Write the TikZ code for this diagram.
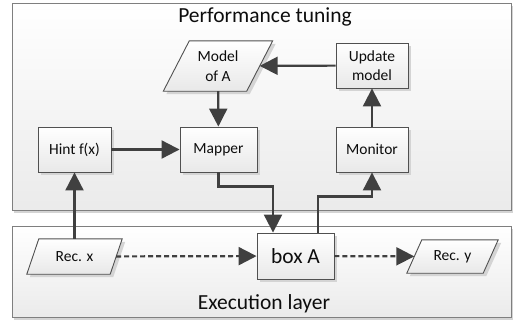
\documentclass[tikz,border=0pt]{standalone}
\usepackage{fontspec}
\setmainfont{Carlito}
\usetikzlibrary{arrows.meta,shadows}

\definecolor{linec}{HTML}{404040}
\definecolor{edgec}{HTML}{505050}
\definecolor{panelc}{HTML}{7F7F7F}
\definecolor{shadowc}{HTML}{D4D4D4}

\pgfdeclarelayer{back}
\pgfdeclarelayer{shapes}
\pgfsetlayers{back,shapes,main}

\tikzset{
  panel/.style={draw=panelc, line width=1pt, top color=white, bottom color=black!8,
    drop shadow={shadow xshift=2pt, shadow yshift=-3pt, fill=shadowc, opacity=1}},
  boxfill/.style={draw=edgec, line width=0.9pt, top color=white, bottom color=black!9,
    drop shadow={shadow xshift=3pt, shadow yshift=-3pt, fill=shadowc, opacity=1}},
  box/.style={boxfill, rectangle, inner sep=0pt, align=center, text=black!95,
    font=\fontsize{15.5}{19.5}\selectfont},
  skew/.style={rectangle, draw=none, inner sep=0pt, align=center, text=black!95,
    font=\fontsize{15.5}{19.5}\selectfont},
  arr/.style={draw=linec, line width=2.2pt,
    -{Triangle[length=18pt, width=18pt]}},
  dotted line/.style={dash pattern=on 5pt off 3pt},
  caption/.style={font=\fontsize{21.5}{24}\selectfont, text=black!95, inner sep=0pt}
}

% parallelogram behind a named rectangular node: name, horizontal slant
\newcommand\skewframe[2]{%
  \begin{pgfonlayer}{shapes}
    \path[boxfill] ([xshift=#2/2]#1.north west) -- ([xshift=#2/2]#1.north east)
      -- ([xshift=-#2/2]#1.south east) -- ([xshift=-#2/2]#1.south west) -- cycle;
  \end{pgfonlayer}}

\begin{document}
\begin{tikzpicture}[x=1pt, y=-1pt]
  \useasboundingbox (0,0) rectangle (514,325);

  % the two layer panels
  \begin{pgfonlayer}{back}
    \path[panel] (12,3) rectangle (511,210);
    \path[panel] (12,226) rectangle (511,317);
  \end{pgfonlayer}
  \node[caption] (ttl) at (265,17) {Performance tuning};
  \node[caption] (etl) at (264,304) {Execution layer};

  % tuning blocks
  \node[box, minimum width=73pt, minimum height=45pt] (hint) at (74.5,149.5) {Hint f(x)};
  \node[box, minimum width=77pt, minimum height=45pt] (mapper) at (218.5,149.5) {Mapper};
  \node[skew, minimum width=83pt, minimum height=50pt] (model) at (218,66) {Model\\of A};
  \skewframe{model}{26}
  \node[box, minimum width=72pt, minimum height=45pt] (update) at (372,65.5) {Update\\model};
  \node[box, minimum width=72pt, minimum height=45pt] (monitor) at (372,149.5) {Monitor};

  % execution blocks
  \node[box, minimum width=77pt, minimum height=46pt, font=\fontsize{21.5}{24}\selectfont] (boxa) at (295.5,256) {box A};
  \node[skew, minimum width=83pt, minimum height=35pt] (recx) at (74.5,256.5) {Rec. x};
  \skewframe{recx}{12}
  \node[skew, minimum width=76pt, minimum height=33pt] (recy) at (452.5,256.5) {Rec. y};
  \skewframe{recy}{15}

  % connectors
  \draw[arr] (hint) -- (mapper);
  \draw[arr] (model) -- (mapper);
  \draw[arr] (update) -- (model);
  \draw[arr] (monitor) -- (update);
  \draw[arr] (recx) -- (hint);
  \draw[arr] (mapper.south) -- ++(0,14) -| ([xshift=-22.5pt]boxa.north);
  \draw[arr] ([xshift=22.5pt]boxa.north) -- ++(0,-36) -| (monitor.south);
  \draw[arr, dotted line] (recx) -- (boxa);
  \draw[arr, dotted line] (boxa) -- (recy);
\end{tikzpicture}
\end{document}
